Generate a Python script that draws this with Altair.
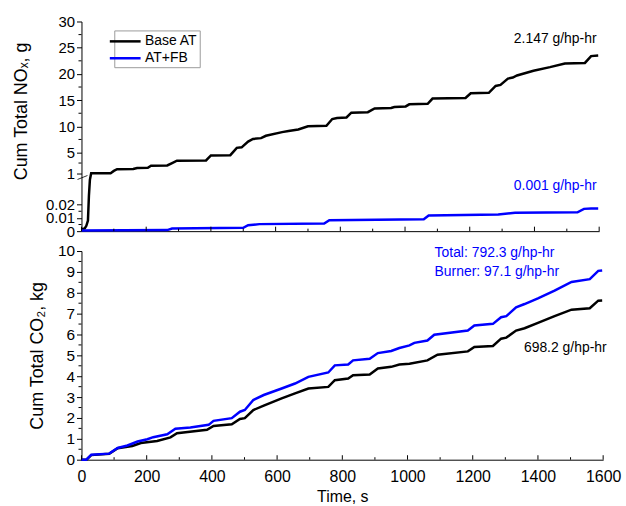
import altair as alt
import pandas as pd

# ---------------- data ----------------
nox_base_t = [0, 10, 15, 20, 23, 26, 30, 90, 100, 110, 160, 172, 205, 215, 265, 280, 295, 385, 400, 460,
              480, 495, 515, 530, 555, 570, 620, 640, 670, 700, 757, 775, 790, 819, 834, 885, 906, 957,
              967, 1002, 1013, 1070, 1085, 1187, 1203, 1259, 1280, 1295, 1318, 1333, 1346, 1397, 1448,
              1494, 1556, 1575, 1597]
nox_base_v = [0.0015, 0.002, 0.004, 0.008, 0.3, 0.8, 1.05, 1.07, 1.5, 1.83, 1.85, 2.05, 2.1, 2.5, 2.55,
              3.0, 3.45, 3.5, 4.45, 4.5, 5.9, 6.0, 7.1, 7.6, 7.75, 8.2, 8.9, 9.1, 9.4, 10.0, 10.1, 11.4,
              11.6, 11.7, 12.6, 12.7, 13.4, 13.5, 13.7, 13.8, 14.2, 14.3, 15.3, 15.4, 16.3, 16.4, 17.7,
              17.9, 19.1, 19.3, 19.7, 20.6, 21.3, 22.0, 22.1, 23.4, 23.5]

nox_fb_t = [0, 265, 280, 500, 515, 550, 750, 766, 1058, 1073, 1288, 1340, 1533, 1553, 1575, 1597]
nox_fb_v = [0.0005, 0.0008, 0.002, 0.0025, 0.0045, 0.0053, 0.0058, 0.0083, 0.009, 0.0118, 0.0125,
            0.0138, 0.0142, 0.0168, 0.017, 0.017]

co2_base_t = [0, 15, 30, 85, 111, 141, 156, 182, 232, 273, 293, 385, 405, 461, 486, 501, 527, 559, 614,
              655, 696, 757, 777, 818, 833, 884, 909, 950, 975, 1006, 1061, 1092, 1185, 1205, 1262, 1287,
              1303, 1333, 1359, 1400, 1451, 1503, 1559, 1585, 1597]
co2_base_v = [0, 0, 0.22, 0.28, 0.55, 0.62, 0.66, 0.8, 0.9, 1.07, 1.27, 1.43, 1.62, 1.7, 1.95, 1.99, 2.38,
              2.59, 2.94, 3.18, 3.41, 3.49, 3.81, 3.89, 4.05, 4.08, 4.37, 4.45, 4.56, 4.6, 4.76, 5.03,
              5.19, 5.4, 5.45, 5.8, 5.85, 6.19, 6.3, 6.56, 6.88, 7.19, 7.26, 7.62, 7.63]

co2_fb_t = [0, 15, 30, 85, 111, 141, 172, 202, 220, 263, 288, 334, 390, 405, 461, 486, 501, 527, 559,
            614, 655, 696, 757, 777, 818, 833, 884, 909, 950, 975, 1006, 1021, 1061, 1082, 1185, 1205,
            1262, 1287, 1303, 1333, 1359, 1400, 1451, 1503, 1559, 1585, 1597]
co2_fb_v = [0, 0, 0.24, 0.29, 0.56, 0.68, 0.87, 0.98, 1.08, 1.22, 1.48, 1.54, 1.67, 1.86, 1.99, 2.3,
            2.38, 2.86, 3.1, 3.41, 3.65, 3.97, 4.18, 4.52, 4.56, 4.76, 4.84, 5.11, 5.21, 5.35, 5.48, 5.6,
            5.71, 5.99, 6.19, 6.43, 6.51, 6.83, 6.88, 7.3, 7.46, 7.73, 8.1, 8.52, 8.65, 9.05, 9.07]

series_names = ["Base AT", "AT+FB"]
series_colors = ["#000000", "#0000ff"]

x_major = [0, 200, 400, 600, 800, 1000, 1200, 1400, 1600]
x_minor = [100, 300, 500, 700, 900, 1100, 1300, 1500]
nox_ticks = [0, 0.01, 0.02, 1, 5, 10, 15, 20, 25, 30]
nox_minor = [0.005, 0.015, 3, 7.5, 12.5, 17.5, 22.5, 27.5]
co2_ticks = [0, 1, 2, 3, 4, 5, 6, 7, 8, 9, 10]
co2_minor = [0.5, 1.5, 2.5, 3.5, 4.5, 5.5, 6.5, 7.5, 8.5, 9.5]

nox_ann_text = ["2.147 g/hp-hr", "0.001 g/hp-hr"]
nox_ann_t = [1592, 1592]
nox_ann_v = [26.7, 0.62]
co2_ann_blue_text = ["Total: 792.3 g/hp-hr", "Burner: 97.1 g/hp-hr"]
co2_ann_blue_t = [1083, 1083]
co2_ann_blue_v = [9.89, 9.0]
co2_ann_black_text = ["698.2 g/hp-hr"]
co2_ann_black_t = [1357]
co2_ann_black_v = [5.37]

# ---------------- tables ----------------
nox_df = pd.concat([
    pd.DataFrame({"t": nox_base_t, "v": nox_base_v, "series": series_names[0]}),
    pd.DataFrame({"t": nox_fb_t, "v": nox_fb_v, "series": series_names[1]}),
])
co2_df = pd.concat([
    pd.DataFrame({"t": co2_base_t, "v": co2_base_v, "series": series_names[0]}),
    pd.DataFrame({"t": co2_fb_t, "v": co2_fb_v, "series": series_names[1]}),
])

FONT = "Liberation Sans"
W_TOP, H_TOP = 521, 211
W_BOT, H_BOT = 525, 210

xscale = alt.Scale(domain=[0, 1600], nice=False, zero=False)
nox_scale = alt.Scale(domain=[0, 0.02, 1, 30], range=[H_TOP, 184.3, 153, 0], nice=False, zero=False)
co2_scale = alt.Scale(domain=[0, 10], nice=False, zero=False)
color_scale = alt.Scale(domain=series_names, range=series_colors)

# axes (identical object reused in every layer so they merge cleanly)
top_x_axis = alt.Axis(labels=False, ticks=False, title=None, domainColor="black", grid=False)
top_y_axis = alt.Axis(values=nox_ticks, grid=False, domainColor="black", tickColor="black",
                      tickSize=5, labelFontSize=15, labelColor="black", labelPadding=2,
                      labelOverlap=False, labelBound=False, labelFlush=False,
                      labelExpr="datum.value > 0 && datum.value < 0.5 ? format(datum.value, '.2f') : format(datum.value, 'd')",
                      title="Cum Total NOₓ, g", titleFontSize=18, titleFontWeight="normal",
                      titleColor="black", titleX=-60, titleY=90, titleAngle=-90,
                      titleBaseline="middle", titleAlign="center")
bot_x_axis = alt.Axis(values=x_major, ticks=False, grid=False, domainColor="black",
                      labelFontSize=16, labelColor="black", labelPadding=9, format="d",
                      labelOverlap=False, labelBound=False, labelFlush=False,
                      title="Time, s", titleFontSize=16, titleFontWeight="normal",
                      titleColor="black", titlePadding=4)
bot_y_axis = alt.Axis(values=co2_ticks, grid=False, domainColor="black", tickColor="black",
                      tickSize=5, labelFontSize=15.5, labelColor="black", labelPadding=2,
                      labelOverlap=False, labelBound=False, labelFlush=False, format="d",
                      title="Cum Total CO₂, kg", titleFontSize=18, titleFontWeight="normal",
                      titleColor="black", titleX=-44, titleY=105, titleAngle=-90,
                      titleBaseline="middle", titleAlign="center")


def xticks(h, major, minor, xaxis):
    mj = alt.Chart(pd.DataFrame({"t": major})).mark_rule(color="black", strokeWidth=1).encode(
        x=alt.X("t:Q", scale=xscale, axis=xaxis), y=alt.value(h), y2=alt.value(h - 4.5))
    mn = alt.Chart(pd.DataFrame({"t": minor})).mark_rule(color="black", strokeWidth=1).encode(
        x=alt.X("t:Q", scale=xscale, axis=xaxis), y=alt.value(h), y2=alt.value(h - 2.5))
    return [mj, mn]


def yminor(vals, yscale, yaxis):
    return alt.Chart(pd.DataFrame({"v": vals})).mark_rule(color="black", strokeWidth=1).encode(
        y=alt.Y("v:Q", scale=yscale, axis=yaxis), x=alt.value(-3), x2=alt.value(0))


# ---------------- top panel: NOx ----------------
nox_lines = alt.Chart(nox_df).mark_line(strokeWidth=2.5, interpolate="linear").encode(
    x=alt.X("t:Q", scale=xscale, axis=top_x_axis),
    y=alt.Y("v:Q", scale=nox_scale, axis=top_y_axis),
    color=alt.Color("series:N", scale=color_scale, sort=series_names,
                    legend=alt.Legend(title=None, orient="none", legendX=33, legendY=9,
                                      symbolType="M-2,0H2", symbolSize=240, symbolStrokeWidth=2.5,
                                      labelFontSize=14, labelFont=FONT, labelColor="black",
                                      strokeColor="#9a9a9a", fillColor="white", padding=2,
                                      rowPadding=1, labelOffset=11)),
    detail="series:N",
)

nox_ann = alt.Chart(pd.DataFrame({"t": nox_ann_t, "v": nox_ann_v, "label": nox_ann_text,
                                  "c": series_names})).mark_text(
    align="right", baseline="middle", fontSize=14, font=FONT).encode(
    x=alt.X("t:Q", scale=xscale, axis=top_x_axis),
    y=alt.Y("v:Q", scale=nox_scale, axis=top_y_axis), text="label:N",
    color=alt.Color("c:N", scale=color_scale, legend=None))

break_mark = alt.Chart(pd.DataFrame({"a": [0]})).mark_rule(color="black", strokeWidth=0.8).encode(
    x=alt.value(-4), x2=alt.value(6), y=alt.value(159), y2=alt.value(155))

top = alt.layer(nox_lines, *xticks(H_TOP, x_major, x_minor, top_x_axis),
                yminor(nox_minor, nox_scale, top_y_axis), nox_ann,
                break_mark).properties(width=W_TOP, height=H_TOP)

# ---------------- bottom panel: CO2 ----------------
co2_lines = alt.Chart(co2_df).mark_line(strokeWidth=2.5).encode(
    x=alt.X("t:Q", scale=xscale, axis=bot_x_axis),
    y=alt.Y("v:Q", scale=co2_scale, axis=bot_y_axis),
    color=alt.Color("series:N", scale=color_scale, sort=series_names, legend=None),
    detail="series:N",
)

co2_ann_b = alt.Chart(pd.DataFrame({"t": co2_ann_blue_t, "v": co2_ann_blue_v,
                                    "label": co2_ann_blue_text})).mark_text(
    align="left", baseline="middle", fontSize=14, font=FONT, color="#0000ff").encode(
    x=alt.X("t:Q", scale=xscale, axis=bot_x_axis),
    y=alt.Y("v:Q", scale=co2_scale, axis=bot_y_axis), text="label:N")
co2_ann_k = alt.Chart(pd.DataFrame({"t": co2_ann_black_t, "v": co2_ann_black_v,
                                    "label": co2_ann_black_text})).mark_text(
    align="left", baseline="middle", fontSize=14, font=FONT, color="black").encode(
    x=alt.X("t:Q", scale=xscale, axis=bot_x_axis),
    y=alt.Y("v:Q", scale=co2_scale, axis=bot_y_axis), text="label:N")

bottom = alt.layer(co2_lines, *xticks(H_BOT, x_major, x_minor, bot_x_axis),
                   yminor(co2_minor, co2_scale, bot_y_axis), co2_ann_b,
                   co2_ann_k).properties(width=W_BOT, height=H_BOT)

chart = alt.vconcat(top, bottom, spacing=20, bounds="flush").resolve_legend(
    color="independent").resolve_scale(color="shared").properties(
    padding={"left": 12, "top": 13, "right": 5, "bottom": 5}
).configure(font=FONT, background="white").configure_view(stroke=None).configure_axis(
    labelOverlap=False)

chart.save("out.html", embed_options={"renderer": "svg", "actions": False})
